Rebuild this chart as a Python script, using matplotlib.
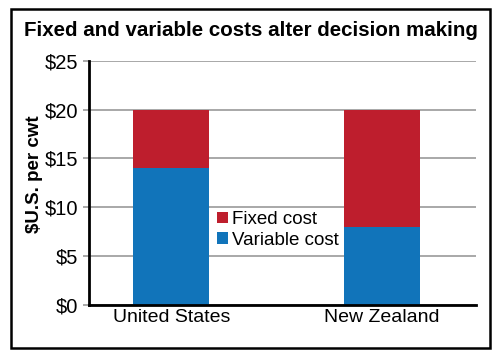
import matplotlib
matplotlib.use("Agg")
import matplotlib.pyplot as plt
from matplotlib.patches import Rectangle

countries = ["United States", "New Zealand"]
variable_cost = [14, 8]
fixed_cost = [6, 12]
yticks = [0, 5, 10, 15, 20, 25]

red = "#be1e2d"
blue = "#1174ba"

plt.rcParams["font.family"] = ["Liberation Sans", "DejaVu Sans"]

fig = plt.figure(figsize=(5, 3.56), dpi=100)
ax = fig.add_axes([0.178, 0.1433, 0.774, 0.6862])

x = range(len(countries))
ax.bar(x, variable_cost, width=0.36, color=blue, label="Variable cost", zorder=3)
ax.bar(x, fixed_cost, width=0.36, bottom=variable_cost, color=red,
       label="Fixed cost", zorder=3)

ax.set_xlim(-0.39, 1.445)
ax.set_ylim(0, 25)
ax.set_yticks(yticks)
ax.set_yticklabels(["$%d" % v for v in yticks], fontsize=14.5)
ax.set_xticks(list(x))
ax.set_xticklabels(countries, fontsize=14)
ax.tick_params(axis="x", length=0, pad=3)
ax.tick_params(axis="y", length=4, width=1.2, color="#999999", pad=4)

ax.grid(axis="y", color="#999999", linewidth=1.2, zorder=0)
for s in ["top", "right"]:
    ax.spines[s].set_visible(False)
ax.spines["left"].set_linewidth(2)
ax.spines["bottom"].set_linewidth(2)
ax.spines["left"].set_zorder(4)
ax.spines["bottom"].set_zorder(4)

ax.set_ylabel("$U.S. per cwt", fontsize=13.5, fontweight="bold")
ax.yaxis.set_label_coords(-0.12, 0.535)

h, l = ax.get_legend_handles_labels()
ax.legend(h[::-1], l[::-1], loc="center left", bbox_to_anchor=(0.331, 0.307),
          frameon=False, fontsize=13.5, handlelength=0.6, handleheight=0.6,
          handletextpad=0.2, labelspacing=0.2, borderpad=0, borderaxespad=0)

fig.text(0.502, 0.915, "Fixed and variable costs alter decision making",
         ha="center", va="center", fontsize=14.8, fontweight="bold")

fig.patches.append(Rectangle((11 / 500, 1 - 348 / 356), 479 / 500, 339 / 356,
                             transform=fig.transFigure, fill=False,
                             edgecolor="black", linewidth=1.8))

fig.savefig("out.png", dpi=100)
